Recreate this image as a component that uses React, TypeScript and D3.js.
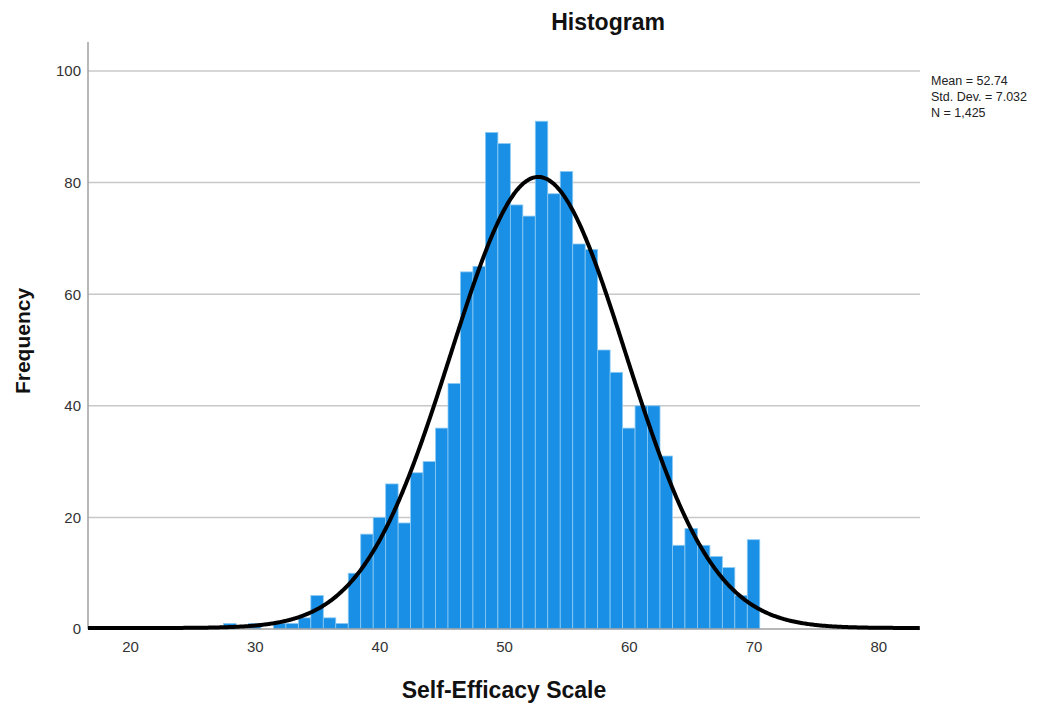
import React, { useEffect, useRef } from 'react';
import * as d3 from 'd3';

// bin centres (one per integer score) and their frequencies
const binValues = [
  28, 29, 30, 31, 32, 33, 34, 35, 36, 37, 38, 39, 40, 41, 42, 43, 44, 45, 46, 47, 48, 49,
  50, 51, 52, 53, 54, 55, 56, 57, 58, 59, 60, 61, 62, 63, 64, 65, 66, 67, 68, 69, 70,
];
const frequencies = [
  1, 0, 1, 0, 1, 1, 2, 6, 2, 1, 10, 17, 20, 26, 19, 28, 30, 36, 44, 64, 65, 89,
  87, 76, 74, 91, 78, 82, 69, 68, 50, 46, 36, 40, 40, 31, 15, 18, 15, 13, 11, 6, 16,
];
const xTicks = [20, 30, 40, 50, 60, 70, 80];
const yTicks = [0, 20, 40, 60, 80, 100];
const statLines = ['Mean = 52.74', 'Std. Dev. = 7.032', 'N = 1,425'];
const mean = 52.74;
const stdDev = 7.032;
const total = 1425;

const font = '"Liberation Sans", Arial, sans-serif';

const App = () => {
  const svgRef = useRef<SVGSVGElement | null>(null);

  useEffect(() => {
    const svgEl = svgRef.current;
    if (!svgEl) return;
    const svg = d3.select(svgEl);
    svg.selectAll('*').remove();

    const left = 88;
    const right = 920;
    const top = 42;
    const bottom = 629;

    const x = d3.scaleLinear().domain([16.63, 83.35]).range([left, right]);
    const y = d3.scaleLinear().domain([0, 105.2]).range([bottom, top]);
    const binW = x(1) - x(0);

    // gridlines
    svg.append('g')
      .selectAll('line')
      .data(yTicks.filter((t) => t > 0))
      .enter()
      .append('line')
      .attr('x1', left)
      .attr('x2', right)
      .attr('y1', (d) => y(d))
      .attr('y2', (d) => y(d))
      .attr('stroke', '#c8c8c8')
      .attr('stroke-width', 1.5);

    // bars
    const bins = binValues.map((v, i) => ({ v, n: frequencies[i] }));
    svg.append('g')
      .selectAll('rect')
      .data(bins.filter((b) => b.n > 0))
      .enter()
      .append('rect')
      .attr('x', (d) => x(d.v) - binW / 2)
      .attr('y', (d) => y(d.n))
      .attr('width', binW)
      .attr('height', (d) => y(0) - y(d.n))
      .attr('fill', '#1990e6')
      .attr('stroke', '#8ccaf4')
      .attr('stroke-width', 0.8);

    // y axis
    const yAxis = svg.append('g').attr('transform', `translate(${left},0)`).call(d3.axisLeft(y).tickValues(yTicks).tickSize(0).tickPadding(7));
    yAxis.select('.domain').attr('stroke', '#a0a0a0').attr('stroke-width', 1.5).attr('d', `M0,${top}V${bottom}`);
    yAxis.selectAll('text').attr('fill', '#333').attr('font-size', 15).attr('font-family', font);

    // x axis
    const xAxis = svg.append('g').attr('transform', `translate(0,${bottom})`).call(d3.axisBottom(x).tickValues(xTicks).tickSize(0).tickPadding(12));
    xAxis.select('.domain').attr('stroke', '#a0a0a0').attr('stroke-width', 1.5).attr('d', `M${left},0H${right}`);
    xAxis.selectAll('text').attr('fill', '#333').attr('font-size', 15).attr('font-family', font);

    // normal curve
    const curvePts = d3.range(x.domain()[0], x.domain()[1] + 0.01, 0.1).map((v) => ({
      v,
      f: (total / (stdDev * Math.sqrt(2 * Math.PI))) * Math.exp(-0.5 * ((v - mean) / stdDev) ** 2),
    }));
    svg.append('path')
      .datum(curvePts)
      .attr('fill', 'none')
      .attr('stroke', '#000')
      .attr('stroke-width', 4)
      .attr('d', d3.line<{ v: number; f: number }>().x((d) => x(d.v)).y((d) => y(d.f) - 1).curve(d3.curveBasis));

    // title
    svg.append('text')
      .attr('x', 608)
      .attr('y', 30)
      .attr('text-anchor', 'middle')
      .attr('font-size', 23)
      .attr('font-weight', 700)
      .attr('font-family', font)
      .attr('fill', '#111')
      .text('Histogram');

    // axis titles
    svg.append('text')
      .attr('x', 504)
      .attr('y', 698)
      .attr('text-anchor', 'middle')
      .attr('font-size', 23)
      .attr('font-weight', 700)
      .attr('font-family', font)
      .attr('fill', '#111')
      .text('Self-Efficacy Scale');

    svg.append('text')
      .attr('transform', 'translate(30,341) rotate(-90)')
      .attr('text-anchor', 'middle')
      .attr('font-size', 21)
      .attr('font-weight', 700)
      .attr('font-family', font)
      .attr('fill', '#111')
      .text('Frequency');

    // stats box
    svg.append('g')
      .selectAll('text')
      .data(statLines)
      .enter()
      .append('text')
      .attr('x', 931)
      .attr('y', (d, i) => 85 + i * 16)
      .attr('font-size', 12.5)
      .attr('font-family', font)
      .attr('fill', '#222')
      .text((d) => d);
  }, []);

  return (
    <svg
      ref={svgRef}
      width={1056}
      height={704}
      style={{ position: 'absolute', left: 0, top: 0, background: '#fff' }}
    />
  );
};

export default App;
